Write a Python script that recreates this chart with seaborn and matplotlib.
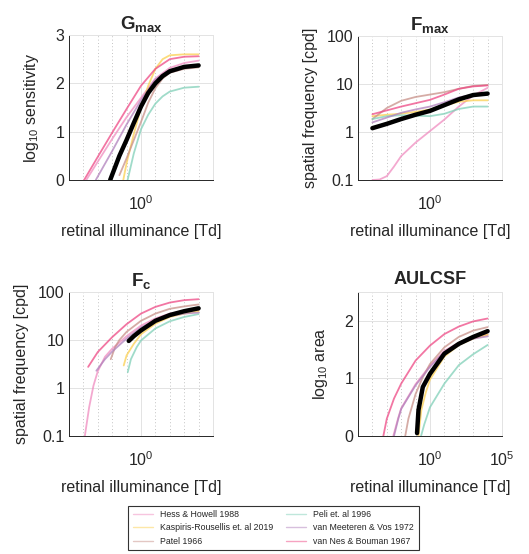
import numpy as np
import pandas as pd
import matplotlib
matplotlib.use('Agg')
import matplotlib.pyplot as plt
import seaborn as sns

studies = ['Hess & Howell 1988', 'Kaspiris-Rousellis et. al 2019', 'Patel 1966',
           'Peli et. al 1996', 'van Meeteren & Vos 1972', 'van Nes & Bouman 1967']
colors = ['#f08cc0', '#fcd050', '#c89088', '#80d0b8', '#b080bc', '#ee4884']

# log10 retinal illuminance / value pairs
gmax = {
    'Hess & Howell 1988': ([-3.8, -3, -2, -1, 0, 1, 2, 3, 4], [0, 0.38, 0.85, 1.3, 1.7, 2.1, 2.32, 2.42, 2.47]),
    'Kaspiris-Rousellis et. al 2019': ([-1.23, -1, -0.5, 0, 0.5, 1, 1.5, 2, 3, 4], [0, 0.35, 0.95, 1.5, 1.95, 2.3, 2.5, 2.58, 2.6, 2.6]),
    'Patel 1966': ([-1.5, -1, 0, 0.5, 1, 1.5, 2, 3, 4], [0.1, 0.45, 1.2, 1.6, 1.9, 2.1, 2.22, 2.3, 2.33]),
    'Peli et. al 1996': ([-0.93, -0.5, 0, 0.5, 1, 1.5, 2, 3, 4], [0, 0.55, 1.05, 1.35, 1.58, 1.73, 1.83, 1.91, 1.93]),
    'van Meeteren & Vos 1972': ([-3.14, -2, -1, 0, 1, 2, 3, 4], [0, 0.6, 1.15, 1.65, 2.08, 2.28, 2.34, 2.36]),
    'van Nes & Bouman 1967': ([-3.95, -3, -2, -1, 0, 1, 2, 3, 4], [0, 0.48, 0.98, 1.47, 1.95, 2.3, 2.5, 2.55, 2.56]),
}
gmax_mean = ([-2.14, -1.5, -1, -0.5, 0, 0.5, 1, 1.5, 2, 3, 4], [0, 0.5, 0.83, 1.18, 1.52, 1.8, 2.0, 2.15, 2.25, 2.34, 2.37])

# log10 cpd
fmax = {
    'Hess & Howell 1988': ([-4, -3.5, -3, -2.5, -2, -1, 0, 1, 2, 3, 4], [-1, -0.99, -0.92, -0.72, -0.5, -0.22, 0.02, 0.26, 0.53, 0.76, 0.92]),
    'Kaspiris-Rousellis et. al 2019': ([-4, -3, -2, -1, 0, 1, 2, 3, 4], [0.33, 0.36, 0.38, 0.42, 0.47, 0.55, 0.63, 0.66, 0.66]),
    'Patel 1966': ([-4, -3, -2, -1, 0, 1, 2, 3, 4], [0.27, 0.5, 0.65, 0.73, 0.78, 0.83, 0.9, 0.96, 0.98]),
    'Peli et. al 1996': ([-4, -3, -2, -1, 0, 1, 2, 3, 4], [0.27, 0.33, 0.35, 0.34, 0.33, 0.38, 0.48, 0.53, 0.53]),
    'van Meeteren & Vos 1972': ([-4, -3, -2, -1, 0, 1, 2, 3, 4], [0.2, 0.3, 0.4, 0.47, 0.53, 0.62, 0.72, 0.78, 0.79]),
    'van Nes & Bouman 1967': ([-4, -3, -2, -1, 0, 1, 2, 3, 4], [0.37, 0.45, 0.53, 0.6, 0.67, 0.78, 0.9, 0.95, 0.97]),
}
fmax_mean = ([-4, -3, -2, -1, 0, 1, 2, 3, 4], [0.08, 0.17, 0.27, 0.36, 0.44, 0.56, 0.68, 0.77, 0.8])

fc = {
    'Hess & Howell 1988': ([-3.9, -3.6, -3.3, -3, -2.5, -2, -1, 0, 1, 2, 3, 4], [-1.0, -0.4, 0.05, 0.35, 0.65, 0.82, 1.08, 1.3, 1.45, 1.55, 1.6, 1.62]),
    'Kaspiris-Rousellis et. al 2019': ([-1.2, -1, -0.5, 0, 1, 2, 3, 4], [0.47, 0.68, 0.92, 1.12, 1.34, 1.48, 1.55, 1.6]),
    'Patel 1966': ([-2.1, -1.8, -1.5, -1, 0, 1, 2, 3, 4], [0.6, 0.85, 1.0, 1.17, 1.4, 1.55, 1.65, 1.7, 1.74]),
    'Peli et. al 1996': ([-0.92, -0.7, -0.3, 0, 1, 2, 3, 4], [0.33, 0.6, 0.85, 0.99, 1.24, 1.39, 1.48, 1.54]),
    'van Meeteren & Vos 1972': ([-3.1, -2.5, -2, -1, 0, 1, 2, 3, 4], [0.36, 0.6, 0.76, 1.03, 1.26, 1.41, 1.5, 1.55, 1.57]),
    'van Nes & Bouman 1967': ([-3.67, -3, -2, -1, 0, 1, 2, 3, 4], [0.44, 0.75, 1.06, 1.33, 1.55, 1.69, 1.78, 1.83, 1.85]),
}
fc_mean = ([-0.85, -0.5, 0, 1, 2, 3, 4], [0.98, 1.08, 1.2, 1.4, 1.52, 1.6, 1.66])

aulcsf = {
    'Hess & Howell 1988': ([-2.55, -2.2, -2, -1, 0, 1, 2, 3, 4], [0, 0.32, 0.48, 0.9, 1.22, 1.48, 1.62, 1.71, 1.76]),
    'Kaspiris-Rousellis et. al 2019': ([-0.8, -0.6, -0.3, 0, 1, 2, 3, 4], [0, 0.45, 0.75, 0.98, 1.38, 1.58, 1.69, 1.76]),
    'Patel 1966': ([-1.72, -1.5, -1, -0.5, 0, 1, 2, 3, 4], [0, 0.3, 0.73, 1.02, 1.25, 1.54, 1.72, 1.83, 1.89]),
    'Peli et. al 1996': ([-0.62, -0.4, 0, 1, 2, 3, 4], [0, 0.2, 0.5, 0.91, 1.23, 1.42, 1.58]),
    'van Meeteren & Vos 1972': ([-2.5, -2.2, -2, -1, 0, 1, 2, 3, 4], [0, 0.3, 0.47, 0.88, 1.2, 1.46, 1.6, 1.69, 1.73]),
    'van Nes & Bouman 1967': ([-3.24, -3, -2.5, -2, -1, 0, 1, 2, 3, 4], [0, 0.3, 0.65, 0.91, 1.31, 1.57, 1.77, 1.9, 1.99, 2.04]),
}
aulcsf_mean = ([-0.9, -0.8, -0.5, 0, 1, 2, 3, 4], [0.05, 0.45, 0.85, 1.08, 1.43, 1.6, 1.72, 1.82])

sns.set_style('white')
plt.rcParams['font.family'] = ['Liberation Sans', 'DejaVu Sans']
plt.rcParams['mathtext.fontset'] = 'custom'
plt.rcParams['mathtext.rm'] = 'Liberation Sans'
plt.rcParams['mathtext.it'] = 'Liberation Sans'
plt.rcParams['mathtext.bf'] = 'Liberation Sans:bold'

W, H = 529, 554
fig = plt.figure(figsize=(W / 100, H / 100), dpi=100)

txt = '#262626'


def make_ax(left, top, right, bottom):
    return fig.add_axes([left / W, (H - bottom) / H, (right - left) / W, (bottom - top) / H])


def draw(ax, curves, mean, logy):
    for study, col in zip(studies, colors):
        lx, v = curves[study]
        yv = 10.0 ** np.array(v) if logy else np.array(v)
        df = pd.DataFrame({'x': 10.0 ** np.array(lx), 'y': yv})
        sns.lineplot(data=df, x='x', y='y', ax=ax, color=col, lw=1.3, alpha=0.75,
                     estimator=None, sort=False, label=study)
    mx, mv = mean
    yv = 10.0 ** np.array(mv) if logy else np.array(mv)
    dfm = pd.DataFrame({'x': 10.0 ** np.array(mx), 'y': yv})
    sns.lineplot(data=dfm, x='x', y='y', ax=ax, color='black', lw=3.2,
                 estimator=None, sort=False)
    ax.set_xscale('log')
    ax.set_xlim(1e-5, 1e5)
    if logy:
        ax.set_yscale('log')
        ax.set_ylim(0.1, 100)
        ax.set_yticks([0.1, 1, 10, 100])
        ax.set_yticklabels(['0.1', '1', '10', '100'])
        ax.yaxis.set_minor_locator(matplotlib.ticker.NullLocator())
    ax.set_xticks([1e-5, 1, 1e5])
    ax.set_xticks([10.0 ** k for k in range(-4, 5) if k != 0], minor=True)
    ax.xaxis.set_minor_formatter(matplotlib.ticker.NullFormatter())
    ax.grid(True, which='major', color='#e3e3e3', lw=0.7, ls='-')
    ax.grid(True, which='minor', axis='x', color='#b0b0b0', lw=0.6, ls=(0, (1, 3)))
    ax.set_axisbelow(True)
    for s in ['left', 'bottom']:
        ax.spines[s].set_color(txt)
        ax.spines[s].set_linewidth(0.7)
    for s in ['top', 'right']:
        ax.spines[s].set_color('#e3e3e3')
        ax.spines[s].set_linewidth(0.7)
    ax.tick_params(which='both', direction='in', length=3, width=0.6, colors=txt,
                   labelsize=11.5, top=False, right=False)
    ax.tick_params(axis='x', which='major', pad=10)
    ax.set_xlabel('retinal illuminance [Td]', fontsize=11.5, color=txt, labelpad=8)
    if ax.get_legend() is not None:
        ax.get_legend().remove()


ax1 = make_ax(69, 35, 213, 180)
draw(ax1, gmax, gmax_mean, False)
ax1.set_ylim(0, 3)
ax1.set_yticks([0, 1, 2, 3])
ax1.set_ylabel('log$_{10}$ sensitivity', fontsize=11.5, color=txt, labelpad=10)
ax1.set_title(r'$\mathbf{G_{max}}$', fontsize=13.5, pad=4)

ax2 = make_ax(358, 36, 502, 180)
draw(ax2, fmax, fmax_mean, True)
ax2.set_ylabel('spatial frequency [cpd]', fontsize=11.5, color=txt, labelpad=6)
ax2.set_title(r'$\mathbf{F_{max}}$', fontsize=13.5, pad=4)

ax3 = make_ax(69, 292, 213, 436)
draw(ax3, fc, fc_mean, True)
ax3.set_ylabel('spatial frequency [cpd]', fontsize=11.5, color=txt, labelpad=6)
ax3.set_title(r'$\mathbf{F_c}$', fontsize=13.5, pad=4)

ax4 = make_ax(358, 292, 502, 436)
draw(ax4, aulcsf, aulcsf_mean, False)
ax4.set_ylim(0, 2.5)
ax4.set_yticks([0, 1, 2])
ax4.set_ylabel('log$_{10}$ area', fontsize=11.5, color=txt, labelpad=10)
ax4.set_title('AULCSF', fontsize=13, fontweight='bold', pad=6)

for ax in [ax1, ax2, ax3]:
    ax.set_xticklabels(['', '$10^0$', ''])
ax4.set_xticklabels(['', '$10^0$', '$10^5$'])

handles = [matplotlib.lines.Line2D([], [], color=c, lw=1.0, alpha=0.5) for c in colors]
leg = fig.legend(handles, studies, loc='center', bbox_to_anchor=(273.5 / W, 1 - 528 / H),
                 ncol=2, fontsize=6.3, frameon=True, fancybox=False, handlelength=2.3,
                 columnspacing=1.5, labelspacing=0.5, borderpad=0.5)
leg.get_frame().set_edgecolor('black')
leg.get_frame().set_linewidth(0.8)

fig.savefig('out.png', dpi=100)
